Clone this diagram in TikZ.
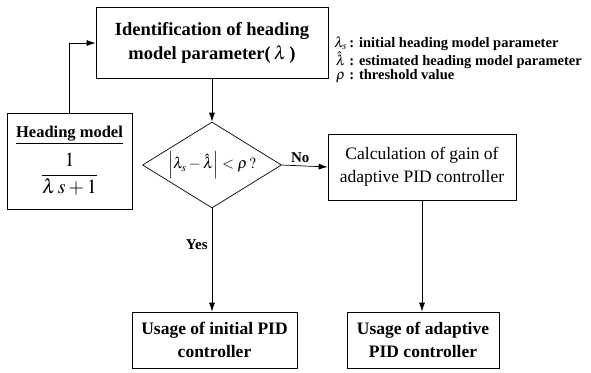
\documentclass[tikz,border=0pt]{standalone}
\usepackage{amsmath}
\usepackage{mathptmx}
\usepackage{fontspec}
\setmainfont{Liberation Serif}
\usetikzlibrary{arrows.meta, shapes.geometric}

\begin{document}
\begin{tikzpicture}[x=1pt, y=-1pt, >={Latex[length=9pt, width=6pt]}, line width=0.7pt,
  blocco/.style={draw, align=center, inner sep=2pt, font=\fontsize{17.5}{23}\selectfont\bfseries},
  etichetta/.style={font=\fontsize{15}{17}\selectfont\bfseries}]

\useasboundingbox (0,0) rectangle (591,372);

% blocchi
\node[blocco, font=\fontsize{18.5}{24}\selectfont\bfseries, minimum width=232, minimum height=71]
  (ident) at (212,43) {Identification of heading\\model parameter(\,$\lambda$\,)};
\node[blocco, font=\fontsize{16.5}{20}\selectfont\bfseries, minimum width=125, minimum height=96]
  (model) at (69.5,161.5)
  {\underline{Heading model}\\[8pt]
   {\fontsize{20}{24}\selectfont$\dfrac{1}{\lambda\,s+1}$}\\[-3pt]};
\node[draw, diamond, aspect=1.6, minimum width=139, minimum height=86, inner sep=0pt,
  font=\fontsize{15.5}{18}\selectfont] (check) at (212,165)
  {$\left|\lambda_s-\hat{\lambda}\right|<\rho\,?$};
\node[blocco, font=\fontsize{17.5}{23}\selectfont, minimum width=188, minimum height=66]
  (gain) at (422,167) {Calculation of gain of\\adaptive PID controller};
\node[blocco, minimum width=165, minimum height=56] (initpid) at (214.5,340)
  {Usage of initial PID\\controller};
\node[blocco, minimum width=152, minimum height=56] (adapid) at (423,340)
  {Usage of adaptive\\PID controller};

% legenda
\node[anchor=west, inner sep=0pt, font=\fontsize{14.5}{14}\selectfont\bfseries] (legenda) at (334,60)
  {\renewcommand\arraystretch{0.95}%
   \begin{tabular}{@{}c@{\,}l@{}}
   $\lambda_s$ & : initial heading model parameter\\
   $\hat{\lambda}$ & : estimated heading model parameter\\
   $\rho$ & : threshold value
   \end{tabular}};

% frecce
\draw[->] (model.north) |- (ident.west);
\draw[->] (ident.south) -- (check.north);
\draw[->] (check.east) -- node[pos=0.4, above, inner sep=3pt, etichetta] {No} (gain.west);
\draw[->] (check.south) -- node[pos=0.35, left, inner sep=4pt, etichetta] {Yes}
  (check.south |- initpid.north);
\draw[->] (gain.south) -- (gain.south |- adapid.north);

\end{tikzpicture}
\end{document}
